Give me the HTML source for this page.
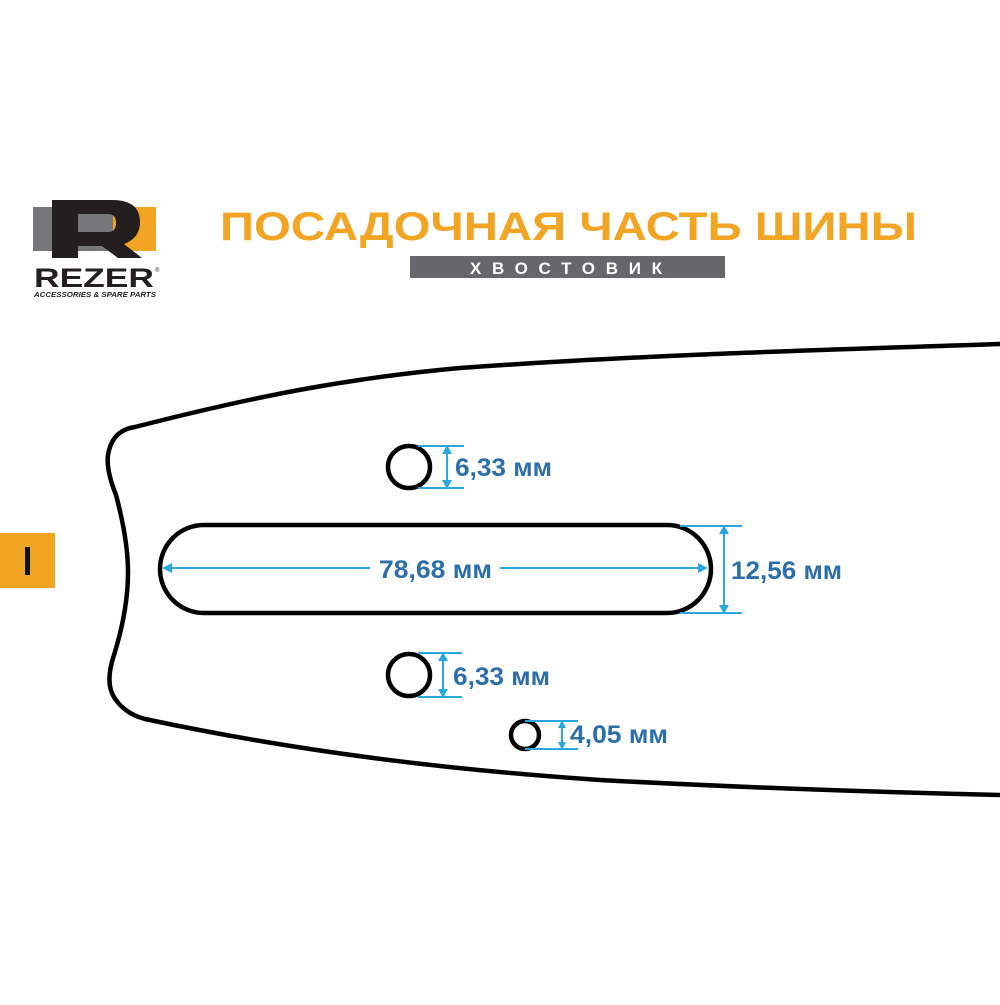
<!DOCTYPE html>
<html><head><meta charset="utf-8"><style>
html,body{margin:0;padding:0;background:#fff;}
body{width:1000px;height:1000px;position:relative;overflow:hidden;font-family:"Liberation Sans","DejaVu Sans",sans-serif;}
</style></head><body>
<svg width="1000" height="1000" viewBox="0 0 1000 1000" xmlns="http://www.w3.org/2000/svg">
<!-- logo -->
<rect x="33" y="207" width="80" height="44" fill="#76777a"/>
<rect x="113" y="207" width="43" height="44" fill="#f2a423"/>
<path d="M52 200 H112 Q140 200 140 222 Q140 238 124 244 L142 258 H118 L102 246 H78 V258 H52 Z M78 214 V232 H108 Q116 232 116 223 Q116 214 108 214 Z" fill="#231f20" fill-rule="evenodd"/>
<text x="34" y="287" font-size="27" font-weight="bold" fill="#231f20" textLength="120" lengthAdjust="spacingAndGlyphs">REZER</text>
<text x="155" y="272" font-size="6" fill="#231f20">®</text>
<text x="34" y="297" font-size="7.5" font-style="italic" font-weight="bold" fill="#231f20" textLength="122" lengthAdjust="spacingAndGlyphs">ACCESSORIES &amp; SPARE PARTS</text>
<!-- title -->
<text x="220" y="240" font-size="40" font-weight="bold" fill="#f2a423" textLength="697" lengthAdjust="spacingAndGlyphs">ПОСАДОЧНАЯ ЧАСТЬ ШИНЫ</text>
<rect x="410" y="256" width="315" height="22" fill="#66676a"/>
<text x="470" y="274" font-size="17" font-weight="bold" fill="#fff" textLength="192" lengthAdjust="spacing">ХВОСТОВИК</text>
<!-- side tag -->
<rect x="0" y="533" width="55" height="55" fill="#f2a423"/>
<rect x="25" y="547" width="5" height="28" fill="#111"/>
<!-- bar outline -->
<path d="M1000 344 C820 350 640 355 460 368 C350 378 260 395 135 427 Q112 430 108 455 Q106 470 116 495 Q128 540 128 572 Q128 610 114 655 Q104 685 116 700 Q126 714 145 719 C300 752 450 770 600 780 C750 788 870 792 1000 795" fill="none" stroke="#000" stroke-width="4.5"/>
<!-- holes -->
<circle cx="409" cy="467" r="21" fill="none" stroke="#000" stroke-width="4.5"/>
<circle cx="409" cy="675" r="21" fill="none" stroke="#000" stroke-width="4.5"/>
<circle cx="525" cy="735" r="14" fill="none" stroke="#000" stroke-width="4.5"/>
<rect x="160" y="525" width="551" height="88" rx="44" ry="44" fill="none" stroke="#000" stroke-width="4.5"/>
<!-- dimensions -->
<g stroke="#29a8e0" stroke-width="2" fill="none">
<line x1="418" y1="446" x2="464" y2="446"/><line x1="418" y1="488" x2="464" y2="488"/><line x1="447" y1="450" x2="447" y2="484"/>
<line x1="418" y1="653" x2="462" y2="653"/><line x1="418" y1="697" x2="462" y2="697"/><line x1="443" y1="657" x2="443" y2="693"/>
<line x1="525" y1="721" x2="578" y2="721"/><line x1="525" y1="749" x2="578" y2="749"/><line x1="562" y1="725" x2="562" y2="745"/>
<line x1="680" y1="526" x2="742" y2="526"/><line x1="680" y1="613" x2="742" y2="613"/><line x1="724" y1="530" x2="724" y2="609"/>
<line x1="166" y1="568" x2="370" y2="568"/><line x1="500" y1="568" x2="704" y2="568"/>
</g>
<g fill="#29a8e0">
<path d="M447 445 l-5 9 h10 z M447 489 l-5 -9 h10 z"/>
<path d="M443 652 l-5 9 h10 z M443 698 l-5 -9 h10 z"/>
<path d="M562 720 l-4 8 h8 z M562 750 l-4 -8 h8 z"/>
<path d="M724 525 l-5 9 h10 z M724 614 l-5 -9 h10 z"/>
<path d="M162 568 l10 -5 v10 z M708 568 l-10 -5 v10 z"/>
</g>
<g fill="#2b6ea8" font-weight="bold" font-size="25" lengthAdjust="spacingAndGlyphs">
<text x="455" y="476" textLength="97" lengthAdjust="spacingAndGlyphs">6,33 мм</text>
<text x="453" y="685" textLength="97" lengthAdjust="spacingAndGlyphs">6,33 мм</text>
<text x="570" y="743" textLength="98" lengthAdjust="spacingAndGlyphs">4,05 мм</text>
<text x="379" y="578" textLength="113" lengthAdjust="spacingAndGlyphs">78,68 мм</text>
<text x="731" y="579" textLength="111" lengthAdjust="spacingAndGlyphs">12,56 мм</text>
</g>
</svg>
</body></html>
